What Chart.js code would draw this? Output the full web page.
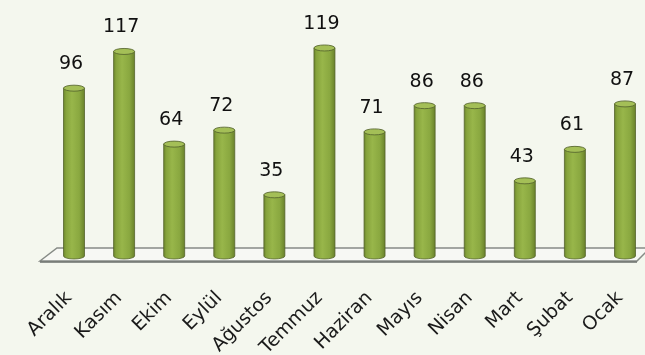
<!DOCTYPE html>
<html>
<head>
<meta charset="utf-8">
<script src="https://cdn.jsdelivr.net/npm/chart.js@4.4.1/dist/chart.umd.min.js"></script>
<style>
  html, body { margin: 0; padding: 0; background: #f4f7ee; }
  #wrap { width: 645px; height: 355px; position: relative; }
</style>
</head>
<body>
<div id="wrap"><canvas id="c" width="645" height="355"></canvas></div>
<script>
const categories = ["Aralık", "Kasım", "Ekim", "Eylül", "Ağustos", "Temmuz", "Haziran", "Mayıs", "Nisan", "Mart", "Şubat", "Ocak"];
const values = [96, 117, 64, 72, 35, 119, 71, 86, 86, 43, 61, 87];
const yMin = 0;
const yMax = 135;

const FONT = "'DejaVu Sans', sans-serif";

function bodyGradient(ctx, left, right) {
  const g = ctx.createLinearGradient(left, 0, right, 0);
  g.addColorStop(0, '#6c862c');
  g.addColorStop(0.12, '#86a33c');
  g.addColorStop(0.4, '#98b64a');
  g.addColorStop(0.75, '#8aa840');
  g.addColorStop(1, '#6a822b');
  return g;
}

const floorPlugin = {
  id: 'floor3d',
  beforeDatasetsDraw(chart) {
    const ctx = chart.ctx;
    const xs = chart.scales.x, ys = chart.scales.y;
    const n = categories.length;
    const x0 = xs.getPixelForValue(0), x1 = xs.getPixelForValue(n - 1);
    const step = (x1 - x0) / (n - 1);
    const base = ys.getPixelForValue(0);
    const backY = base - 8, frontY = base + 5;
    const fl = x0 - 0.68 * step, bl = x0 - 0.34 * step;
    const fr = x1 + 0.24 * step, br = x1 + 0.5 * step;
    ctx.save();
    ctx.beginPath();
    ctx.moveTo(fl, frontY);
    ctx.lineTo(bl, backY);
    ctx.lineTo(br, backY);
    ctx.lineTo(fr, frontY);
    ctx.closePath();
    ctx.fillStyle = '#f7f8f4';
    ctx.fill();
    ctx.lineWidth = 1.5;
    ctx.strokeStyle = '#868b86';
    ctx.stroke();
    ctx.beginPath();
    ctx.moveTo(fl, frontY + 1);
    ctx.lineTo(fr, frontY + 1);
    ctx.lineWidth = 1.5;
    ctx.strokeStyle = '#6a6f6b';
    ctx.stroke();
    ctx.restore();
  }
};

const cylinderPlugin = {
  id: 'cylinders',
  afterDatasetsDraw(chart) {
    const ctx = chart.ctx;
    const meta = chart.getDatasetMeta(0);
    ctx.save();
    meta.data.forEach((bar, i) => {
      const p = bar.getProps(['x', 'y', 'base', 'width'], true);
      const left = p.x - p.width / 2, right = p.x + p.width / 2;
      const rx = p.width / 2, ry = 3;
      ctx.beginPath();
      ctx.moveTo(left, p.y);
      ctx.lineTo(left, p.base);
      ctx.ellipse(p.x, p.base, rx, ry, 0, Math.PI, 0, true);
      ctx.lineTo(right, p.y);
      ctx.closePath();
      ctx.fillStyle = bodyGradient(ctx, left, right);
      ctx.fill();
      ctx.lineWidth = 1;
      ctx.strokeStyle = 'rgba(80,95,40,0.75)';
      ctx.stroke();
      ctx.beginPath();
      ctx.ellipse(p.x, p.y, rx, ry, 0, 0, Math.PI * 2);
      ctx.fillStyle = '#a4bf57';
      ctx.fill();
      ctx.strokeStyle = 'rgba(85,100,45,0.85)';
      ctx.stroke();
      ctx.fillStyle = '#111111';
      ctx.font = "19px " + FONT;
      ctx.textAlign = 'center';
      ctx.textBaseline = 'middle';
      ctx.fillText(String(values[i]), p.x - 3, p.y - 24);
    });
    ctx.restore();
  }
};

new Chart(document.getElementById('c'), {
  type: 'bar',
  data: {
    labels: categories,
    datasets: [{
      data: values,
      backgroundColor: 'rgba(0,0,0,0)',
      borderWidth: 0,
      barThickness: 21
    }]
  },
  options: {
    responsive: false,
    animation: false,
    events: [],
    layout: { padding: { left: 74, right: 20, top: 20, bottom: 0 } },
    plugins: { legend: { display: false }, tooltip: { enabled: false } },
    scales: {
      x: {
        offset: false,
        grid: { display: false },
        border: { display: false },
        ticks: {
          minRotation: 45,
          maxRotation: 45,
          autoSkip: false,
          color: '#1a1a1a',
          padding: 23,
          labelOffset: -5,
          font: { family: FONT, size: 19 }
        },
        afterFit(scale) { scale.paddingLeft = 0; scale.paddingRight = 0; scale.height = 99; }
      },
      y: {
        display: false,
        min: yMin,
        max: yMax
      }
    }
  },
  plugins: [floorPlugin, cylinderPlugin]
});
</script>
</body>
</html>
